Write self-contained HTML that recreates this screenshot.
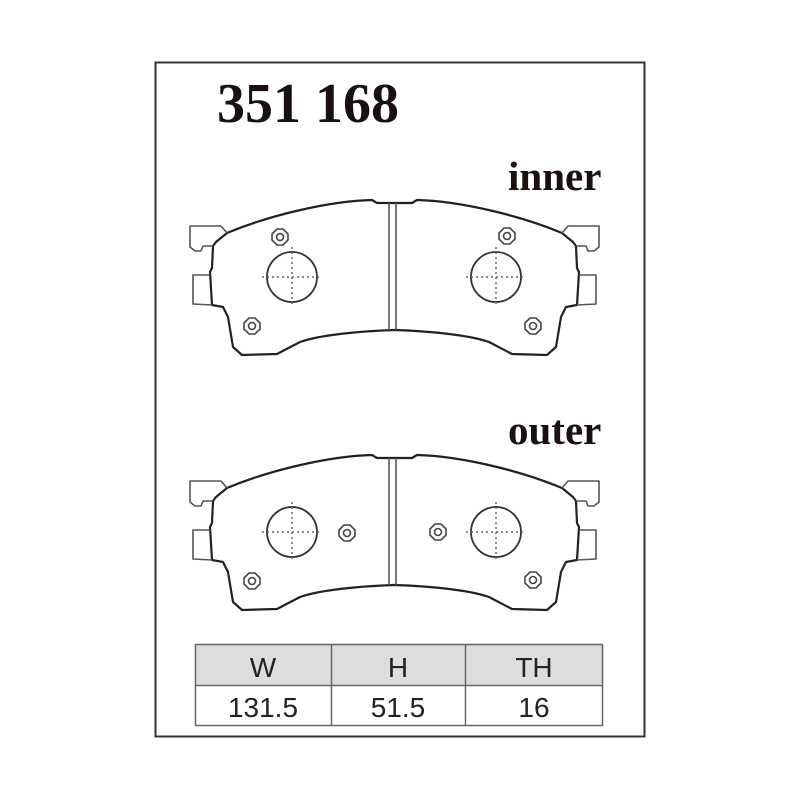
<!DOCTYPE html>
<html><head><style>
html,body{margin:0;padding:0;background:#fff;}
svg{display:block;}
</style></head><body>
<svg width="800" height="800" viewBox="0 0 800 800" xmlns="http://www.w3.org/2000/svg">
<defs>
<g id="half" fill="none" stroke="#222" stroke-width="2.2" stroke-linejoin="round">
  <path d="M395,203 L377,203 L372,200 C330,201 270,215 227,233 L216,242 L213,246 L212,268 L210,272 L212,305 L223,307 L228,317 L233,347 L242,355 L277,354 L300,342 C320,335 360,331 395,330"/>
  <path stroke="#555" stroke-width="1.6" d="M227,233 L221,226 L190,226 L190,247 L195,251 L201,251 L203,246 L213,246"/>
  <path stroke="#555" stroke-width="1.6" d="M210,275 L193,275 L193,304 L212,305"/>
</g>
<g id="big" fill="none">
  <circle r="25" stroke="#333" stroke-width="1.8"/>
  <line x1="-30" y1="0" x2="30" y2="0" stroke="#666" stroke-width="1.5" stroke-dasharray="2,3"/>
  <line x1="0" y1="-30" x2="0" y2="30" stroke="#666" stroke-width="1.5" stroke-dasharray="2,3"/>
</g>
<g id="sm" fill="none" stroke="#444" stroke-width="1.6">
  <polygon points="-8,-3 -3,-8 3,-8 8,-3 8,3 3,8 -3,8 -8,3"/>
  <circle r="3.5"/>
</g>
<g id="pad">
  <use href="#half"/>
  <use href="#half" transform="translate(789,0) scale(-1,1)"/>
  <line stroke="#555" stroke-width="1.6" x1="389" y1="203" x2="389" y2="330"/>
  <line stroke="#555" stroke-width="1.6" x1="396" y1="203" x2="396" y2="330"/>
</g>
</defs>
<rect x="155.5" y="62.5" width="489" height="674" fill="#fff" stroke="#333" stroke-width="2"/>
<text x="217" y="122" font-family="Liberation Serif, serif" font-weight="bold" font-size="56" fill="#1a1010">351 168</text>
<text x="508" y="190" font-family="Liberation Serif, serif" font-weight="bold" font-size="41" fill="#1a1010">inner</text>
<text x="508" y="444" font-family="Liberation Serif, serif" font-weight="bold" font-size="41" fill="#1a1010">outer</text>
<use href="#pad"/>
<use href="#big" x="292" y="277"/>
<use href="#big" x="496" y="277"/>
<use href="#sm" x="280" y="237"/>
<use href="#sm" x="252" y="326"/>
<use href="#sm" x="507" y="236"/>
<use href="#sm" x="533" y="326"/>
<use href="#pad" y="255"/>
<use href="#big" x="292" y="532"/>
<use href="#big" x="496" y="532"/>
<use href="#sm" x="347" y="533"/>
<use href="#sm" x="438" y="532"/>
<use href="#sm" x="252" y="581"/>
<use href="#sm" x="533" y="580"/>
<rect x="195.5" y="644.5" width="407" height="41" fill="#ddd"/>
<g stroke="#666" stroke-width="1.5" fill="none">
<rect x="195.5" y="644.5" width="407" height="81"/>
<line x1="195" y1="685.5" x2="603" y2="685.5"/>
<line x1="331.5" y1="644" x2="331.5" y2="726"/>
<line x1="465.5" y1="644" x2="465.5" y2="726"/>
</g>
<g font-family="Liberation Sans, sans-serif" font-size="28" fill="#222" text-anchor="middle">
<text x="263" y="677">W</text>
<text x="398" y="677">H</text>
<text x="534" y="677">TH</text>
<text x="263" y="717">131.5</text>
<text x="398" y="717">51.5</text>
<text x="534" y="717">16</text>
</g>
</svg>
</body></html>
